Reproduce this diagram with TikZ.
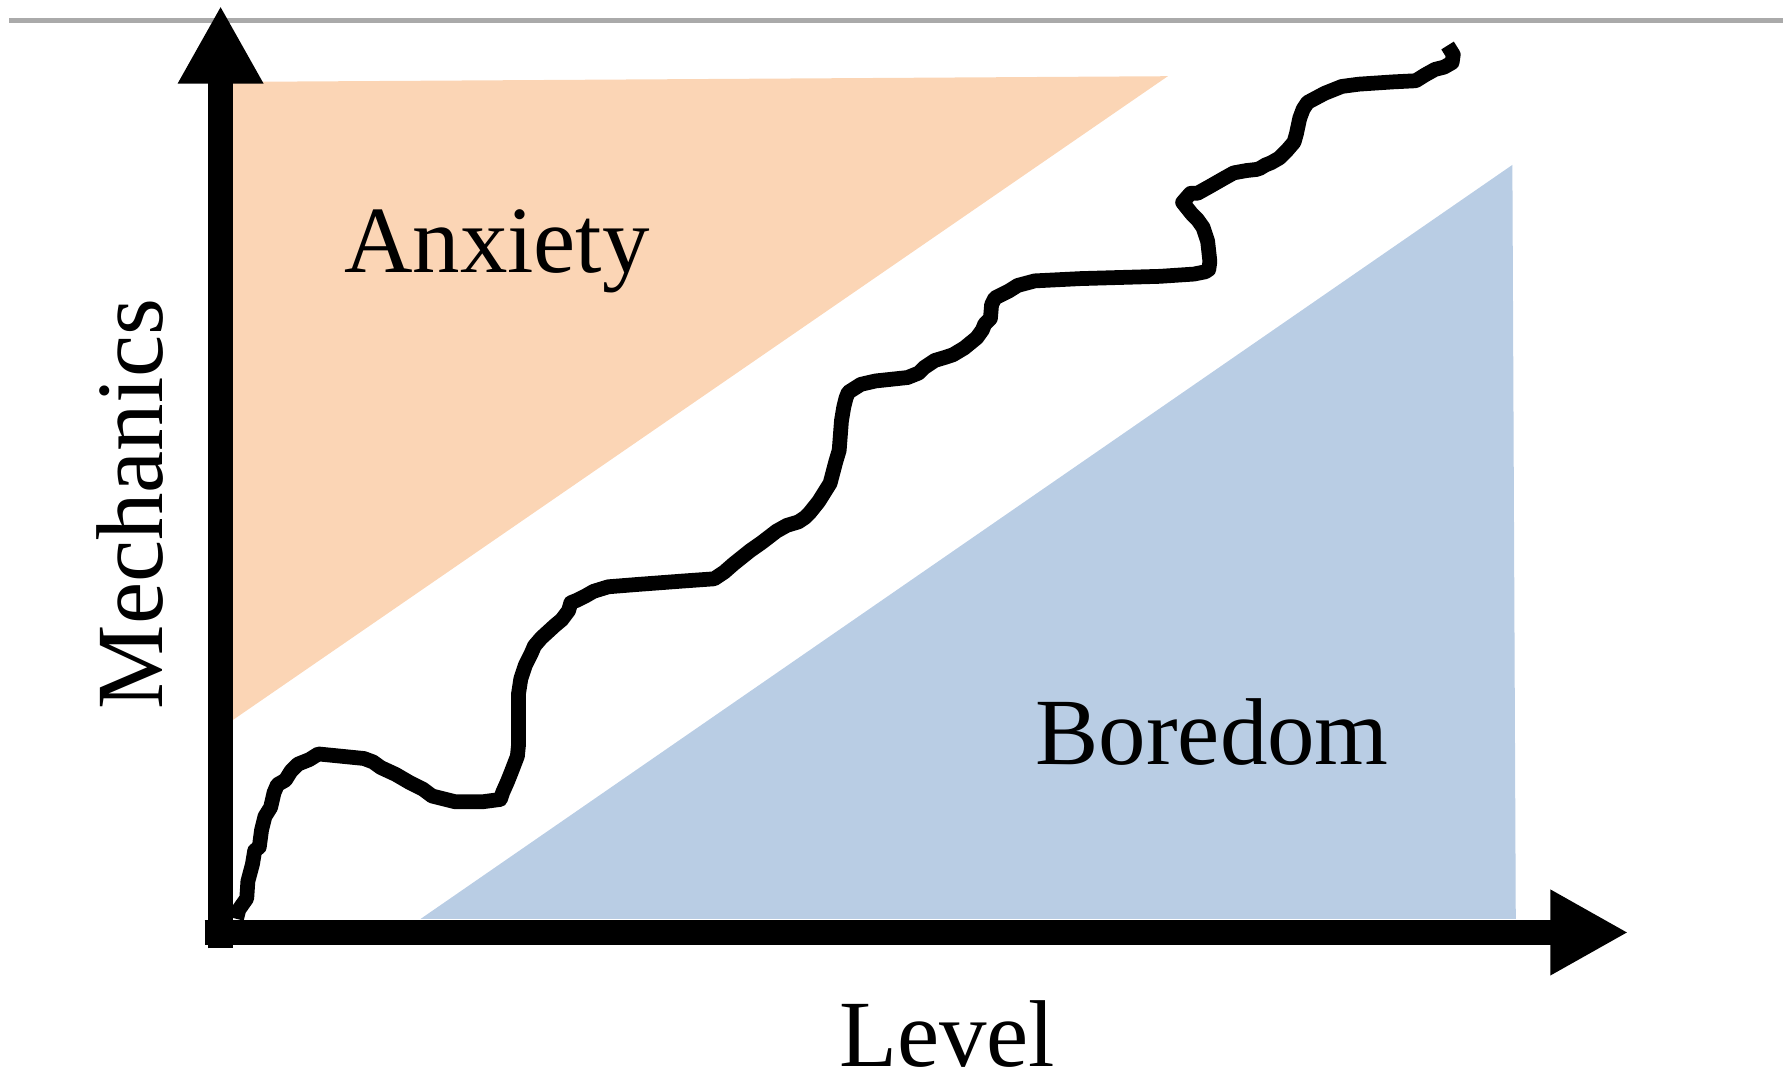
\documentclass[tikz,border=0pt]{standalone}
\usepackage{fontspec}
\setmainfont{Liberation Serif}
\usepackage{xcolor}
\definecolor{anxious}{HTML}{FBD5B5}
\definecolor{bored}{HTML}{B9CDE4}
\definecolor{rule}{HTML}{AAAAAA}
\usetikzlibrary{arrows.meta}
\tikzstyle{axis} = [draw, line width=7.3pt, line cap=butt, -{Triangle[length=7.8mm,width=8mm]}]
\tikzstyle{zone} = [font=\fontsize{27}{32}\selectfont, inner sep=0pt, anchor=base]
\tikzstyle{flow} = [draw, line width=4.2pt, line join=round, line cap=butt]

\begin{document}
\begin{tikzpicture}[x=0.11371mm,y=-0.11371mm]
    \useasboundingbox (0,0) rectangle (1568,951);
    % Place coordinates
    \coordinate (origin) at (194,834);
    \coordinate (ytip) at (194,5);
    \coordinate (xstart) at (180,820);
    \coordinate (xtip) at (1432,820);
    \coordinate (rulel) at (8,18);
    \coordinate (ruler) at (1568,18);

    % Regions
    \fill[anxious] (205,72) -- (1027,67) -- (205,633) -- cycle;
    \fill[bored] (370,808) -- (1330,145) -- (1333,808) -- cycle;
    \draw[rule, line width=1.2pt] (rulel) -- (ruler);

    % Place nodes
    \node[zone] (anx) at (437,240) {Anxiety};
    \node[zone] (bore) at (1066,672) {Boredom};
    \node[zone] (lvl) at (833,938) {Level};
    \node[zone, rotate=90] (mech) at (143,443) {Mechanics};

    % Draw the path
    \path[flow] (208,808) -- (210,800) -- (217,790) -- (218,775) -- (222,760)
      -- (224,748) -- (228,745) -- (230,730) -- (233,718) -- (238,710)
      -- (241,697) -- (244,690) -- (251,686) -- (256,678) -- (262,672)
      -- (272,668) -- (280,663) -- (300,665) -- (320,667) -- (328,670)
      -- (335,675) -- (348,681) -- (360,688) -- (372,694) -- (380,700)
      -- (400,705) -- (425,705) -- (440,703) -- (442,697) -- (446,688)
      -- (450,678) -- (455,665) -- (456,655) -- (456,630) -- (456,610)
      -- (458,597) -- (462,585) -- (467,575) -- (470,568) -- (476,561)
      -- (488,550) -- (494,545) -- (500,537) -- (502,530) -- (507,528)
      -- (515,524) -- (522,520) -- (535,516) -- (560,514) -- (600,511)
      -- (628,509) -- (637,503) -- (645,496) -- (660,484) -- (670,477)
      -- (683,467) -- (692,462) -- (702,459) -- (708,455) -- (712,451)
      -- (720,441) -- (730,425) -- (735,406) -- (738,396) -- (740,370)
      -- (742,358) -- (744,350) -- (746,345) -- (757,338) -- (770,335)
      -- (798,332) -- (808,328) -- (813,323) -- (822,317) -- (832,314)
      -- (838,312) -- (848,306) -- (859,297) -- (864,290) -- (866,285)
      -- (871,280) -- (872,268) -- (875,262) -- (887,256) -- (895,251)
      -- (910,247) -- (950,245) -- (1020,243) -- (1050,241) -- (1060,239)
      -- (1063,237) -- (1064,230) -- (1062,212) -- (1058,200) -- (1053,193)
      -- (1048,188) -- (1040,178) -- (1047,170) -- (1053,170) -- (1062,165)
      -- (1076,157) -- (1085,152) -- (1096,150) -- (1105,149) -- (1108,148)
      -- (1113,145) -- (1118,143) -- (1125,139) -- (1132,132) -- (1138,125)
      -- (1140,118) -- (1143,104) -- (1146,96) -- (1150,90) -- (1165,82)
      -- (1180,76) -- (1195,74) -- (1225,72) -- (1245,71) -- (1253,66)
      -- (1262,61) -- (1270,59) -- (1277,55) -- (1278,48) -- (1273,40);

    % Draw axes
    \path[axis] (origin) -- (ytip);
    \path[axis] (xstart) -- (xtip);
\end{tikzpicture}
\end{document}
